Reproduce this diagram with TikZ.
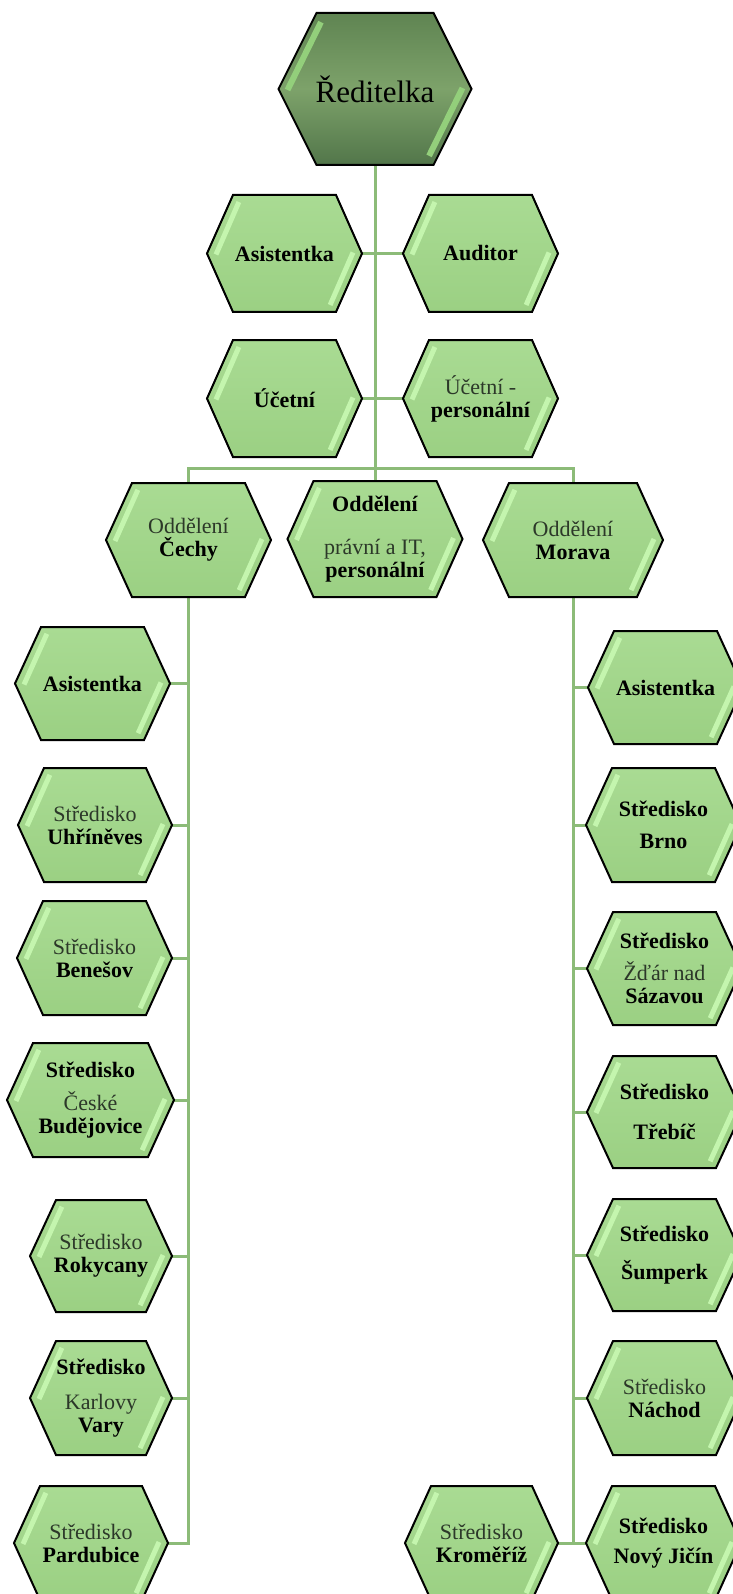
\documentclass[tikz,border=0pt]{standalone}
\usepackage{fontspec}
\setmainfont{Liberation Serif}
\usetikzlibrary{backgrounds}
\definecolor{hexTop}{HTML}{A9DB93}
\definecolor{hexBot}{HTML}{9BD083}
\definecolor{darkTop}{HTML}{5F8452}
\definecolor{darkMid}{HTML}{7DA26A}
\definecolor{darkBot}{HTML}{52764A}
\definecolor{streakcol}{HTML}{C4F5AE}
\definecolor{streakdark}{HTML}{93CF7B}
\definecolor{conncol}{HTML}{8CBB78}
\definecolor{litetext}{HTML}{2C3829}
\newcommand\ltxt[1]{{\mdseries\color{litetext}#1}}
\tikzset{
  hexfill/.style={draw=black, line width=2pt, line join=miter, top color=hexTop, bottom color=hexBot},
  hexdark/.style={draw=black, line width=2pt, line join=miter, top color=darkTop, bottom color=darkBot, middle color=darkMid},
  streak/.style={draw=streakcol, line width=5pt},
  streakd/.style={draw=streakdark, line width=6pt},
  conn/.style={draw=conncol, line width=3pt},
  hextext/.style={inner sep=0pt, align=center, font=\fontsize{22}{23}\selectfont\bfseries, text=black},
}
% #1 name, #2 cx, #3 cy, #4 w, #5 h, #6 slant, #7 fill style, #8 streak style, #9 text
\newcommand\hexbase[9]{%
  \path[#7] ({#2-#4/2},#3) -- ({#2-#4/2+#6},{#3-#5/2}) -- ({#2+#4/2-#6},{#3-#5/2})
    -- ({#2+#4/2},#3) -- ({#2+#4/2-#6},{#3+#5/2}) -- ({#2-#4/2+#6},{#3+#5/2}) -- cycle;
  \draw[#8] ({#2-#4/2+#6*0.88+9},{#3-#5/2*0.88}) -- ({#2-#4/2+9},{#3+1});
  \draw[#8] ({#2+#4/2-9},{#3-1}) -- ({#2+#4/2-#6*0.88-9},{#3+#5/2*0.88});
  \node[hextext, minimum width=#4pt, minimum height=#5pt] (#1) at (#2,#3) {#9};
}
\newcommand\hexnode[6]{\hexbase{#1}{#2}{#3}{#4}{#5}{26}{hexfill}{streak}{#6}}
\begin{document}
\begin{tikzpicture}[x=1pt,y=-1pt]
\useasboundingbox (0,0) rectangle (732,1594);
\begin{scope}[on background layer]
  \fill[white] (0,0) rectangle (732,1594);
\end{scope}

% top
\hexbase{red}{375}{89}{193}{152}{38}{hexdark}{streakd}{{\fontsize{31}{33}\selectfont\mdseries Ředitelka}}

\hexnode{asT}{284.5}{253.5}{155}{117}{Asistentka}
\hexnode{aud}{480.5}{253.5}{155}{117}{Auditor}
\hexnode{uc}{284.5}{398.5}{155}{117}{Účetní}
\hexnode{ucp}{480.5}{398.5}{155}{117}{\ltxt{Účetní -}\\personální}

% departments
\hexnode{cech}{188.5}{540}{165}{114}{\ltxt{Oddělení}\\Čechy}
\hexnode{mid}{375}{539}{175}{116}{Oddělení\\[20pt]\ltxt{právní a IT,}\\personální}
\hexnode{mor}{573}{540}{180}{114}{\ltxt{Oddělení}\\Morava}

% left column
\hexnode{aL}{92.5}{683.5}{155}{113}{Asistentka}
\hexnode{uhr}{95}{825}{154}{114}{\ltxt{Středisko}\\Uhříněves}
\hexnode{ben}{94.5}{958}{155}{114}{\ltxt{Středisko}\\Benešov}
\hexnode{cb}{90.5}{1100}{167}{114}{Středisko\\[10pt]\ltxt{České}\\Budějovice}
\hexnode{rok}{101}{1256}{142}{112}{\ltxt{Středisko}\\Rokycany}
\hexnode{kv}{101}{1398}{142}{114}{Středisko\\[12pt]\ltxt{Karlovy}\\Vary}
\hexnode{par}{91}{1543}{154}{114}{\ltxt{Středisko}\\Pardubice}

% right column
\hexnode{aR}{665.5}{687.5}{155}{113}{Asistentka}
\hexnode{brno}{663.5}{825}{155}{114}{Středisko\\[9pt]Brno}
\hexnode{zdar}{664.5}{968.5}{155}{113}{Středisko\\[9pt]\ltxt{Žďár nad}\\Sázavou}
\hexnode{treb}{664.5}{1112}{155}{112}{Středisko\\[17pt]Třebíč}
\hexnode{sum}{664.5}{1255}{155}{112}{Středisko\\[15pt]Šumperk}
\hexnode{nach}{664.5}{1398}{155}{114}{\ltxt{Středisko}\\Náchod}
\hexnode{novy}{663.5}{1543}{155}{114}{Středisko\\[7pt]Nový Jičín}
\hexnode{krom}{481.5}{1543}{153}{114}{\ltxt{Středisko}\\Kroměříž}

\coordinate (bus) at (375,468);

\begin{scope}[on background layer]
  \draw[conn] (red.south) -- (mid.north);
  \draw[conn] (asT.east) -- (aud.west);
  \draw[conn] (uc.east) -- (ucp.west);
  \draw[conn] (cech.north) |- (bus) -| (mor.north);
  \draw[conn] (cech.south) |- (par.east);
  \foreach \n in {aL,uhr,ben,cb,rok,kv}
    \draw[conn] (\n.east) -- (\n.east -| cech.south);
  \draw[conn] (mor.south) |- (novy.west);
  \draw[conn] (krom.east) -- (novy.west);
  \foreach \n in {aR,brno,zdar,treb,sum,nach}
    \draw[conn] (\n.west) -- (\n.west -| mor.south);
\end{scope}
\end{tikzpicture}
\end{document}
